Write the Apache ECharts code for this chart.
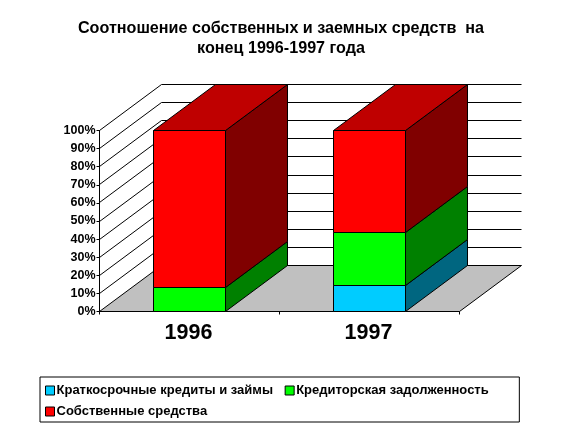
<!DOCTYPE html>
<html>
<head>
<meta charset="utf-8">
<style>
  html, body { margin: 0; padding: 0; background: #fff; }
  #chart { width: 562px; height: 431px; }
</style>
<script src="https://cdn.jsdelivr.net/npm/echarts@6/dist/echarts.min.js"></script>
</head>
<body>
<div id="chart"></div>
<script>
const years = ['1996', '1997'];
const shortTerm = [0, 14.4];
const payables = [13.3, 29.2];
const equity = [86.7, 56.4];
const wallTicks = [0, 10, 20, 30, 40, 50, 60, 70, 80, 90, 100];

// depth of the fake 3D box, px
const DEPTH_X = 62;
const DEPTH_Y = 46;
const FONT = '"Liberation Sans", Arial, sans-serif';

const chart = echarts.init(document.getElementById('chart'), null, { renderer: 'canvas' });

const lineStyle = { stroke: '#000', lineWidth: 1, fill: null };

// keep 1px lines on the pixel grid
const snap = v => Math.floor(v) + 0.5;

const renderWall = (params, api) => {
  const value = api.value(0);
  const cs = params.coordSys;
  const left = snap(cs.x);
  const right = snap(cs.x + cs.width);
  const y = snap(api.coord([0, value])[1]);
  const children = [];
  if (value === 0) {
    children.push({
      type: 'polygon',
      shape: { points: [[left, y], [right, y], [right + DEPTH_X, y - DEPTH_Y], [left + DEPTH_X, y - DEPTH_Y]] },
      style: { fill: '#C0C0C0', stroke: '#000', lineWidth: 1 }
    });
  } else {
    children.push({
      type: 'polyline',
      shape: { points: [[left, y], [left + DEPTH_X, y - DEPTH_Y], [right + DEPTH_X, y - DEPTH_Y]] },
      style: lineStyle
    });
  }
  return { type: 'group', children };
};

const makeRenderBar = (front, side, top, isLast) => (params, api) => {
  const idx = api.value(0);
  const from = api.value(1);
  const to = api.value(2);
  if (to - from <= 0) return null;
  const band = api.size([1, 0])[0];
  const w = band * 0.4;
  const cx = api.coord([idx, 0])[0];
  const x0 = snap(cx - w / 2);
  const x1 = snap(cx + w / 2);
  const y0 = snap(api.coord([idx, from])[1]);
  const y1 = snap(api.coord([idx, to])[1]);
  const stroke = { stroke: '#000', lineWidth: 1 };
  const children = [
    {
      type: 'polygon',
      shape: { points: [[x1, y0], [x1 + DEPTH_X, y0 - DEPTH_Y], [x1 + DEPTH_X, y1 - DEPTH_Y], [x1, y1]] },
      style: { fill: side, ...stroke }
    },
    {
      type: 'polygon',
      shape: { points: [[x0, y0], [x1, y0], [x1, y1], [x0, y1]] },
      style: { fill: front, ...stroke }
    }
  ];
  if (isLast) {
    children.push({
      type: 'polygon',
      shape: { points: [[x0, y1], [x1, y1], [x1 + DEPTH_X, y1 - DEPTH_Y], [x0 + DEPTH_X, y1 - DEPTH_Y]] },
      style: { fill: top, ...stroke }
    });
  }
  return { type: 'group', children };
};

const stackRows = (values, below) => values.map((v, i) => [i, below[i], below[i] + v]);
const base0 = years.map(() => 0);
const base1 = shortTerm.slice();
const base2 = shortTerm.map((v, i) => v + payables[i]);

const barSeries = (name, color, side, top, values, below, isLast) => ({
  name,
  type: 'custom',
  renderItem: makeRenderBar(color, side, top, isLast),
  data: stackRows(values, below),
  encode: { x: 0, y: [1, 2] },
  itemStyle: { color, borderColor: '#000', borderWidth: 1 },
  silent: true,
  z: 3
});

chart.setOption({
  animation: false,
  title: {
    text: 'Соотношение собственных и заемных средств  на\nконец 1996-1997 года',
    left: 276,
    top: 13,
    textAlign: 'center',
    textStyle: { fontFamily: FONT, fontSize: 16.15, fontWeight: 'bold', color: '#000', lineHeight: 20.5 }
  },
  legend: {
    data: ['Краткосрочные кредиты и займы', 'Кредиторская задолженность', 'Собственные средства'],
    // trailing space widens the gap between items without growing the row gap
    formatter: name => name + ' ',
    left: 40,
    top: 377,
    width: 455,
    padding: [7, 27, 4, 5],
    orient: 'horizontal',
    align: 'left',
    icon: 'rect',
    itemWidth: 9,
    itemHeight: 9,
    itemGap: 8,
    borderColor: '#000',
    borderWidth: 1,
    borderRadius: 0,
    backgroundColor: '#fff',
    itemStyle: { borderWidth: 1, borderColor: '#000' },
    textStyle: { fontFamily: FONT, fontSize: 13, fontWeight: 'bold', color: '#000', padding: [0, 0, 0, -3] }
  },
  grid: { left: 99.5, top: 130.5, width: 360, height: 181, containLabel: false },
  xAxis: {
    type: 'category',
    data: years,
    axisLine: { show: true, lineStyle: { color: '#000', width: 1 } },
    axisTick: { show: true, length: 3, lineStyle: { color: '#000' } },
    axisLabel: { fontFamily: FONT, fontSize: 21.5, fontWeight: 'bold', color: '#000', margin: 11, padding: [0, 2, 0, 0] },
    splitLine: { show: false }
  },
  yAxis: {
    type: 'value',
    min: 0,
    max: 100,
    interval: 10,
    axisLine: { show: true, lineStyle: { color: '#000', width: 1 } },
    axisTick: { show: true, length: 3, lineStyle: { color: '#000' } },
    axisLabel: { fontFamily: FONT, fontSize: 12.5, fontWeight: 'bold', color: '#000', margin: 4, formatter: '{value}%' },
    splitLine: { show: false }
  },
  series: [
    {
      type: 'custom',
      renderItem: renderWall,
      data: wallTicks.map(v => [v]),
      encode: { y: 0 },
      silent: true,
      z: 1
    },
    barSeries('Краткосрочные кредиты и займы', '#00CCFF', '#006680', '#0099BF', shortTerm, base0, false),
    barSeries('Кредиторская задолженность', '#00FF00', '#008000', '#00BF00', payables, base1, false),
    barSeries('Собственные средства', '#FF0000', '#800000', '#BF0000', equity, base2, true)
  ]
});
</script>
</body>
</html>
